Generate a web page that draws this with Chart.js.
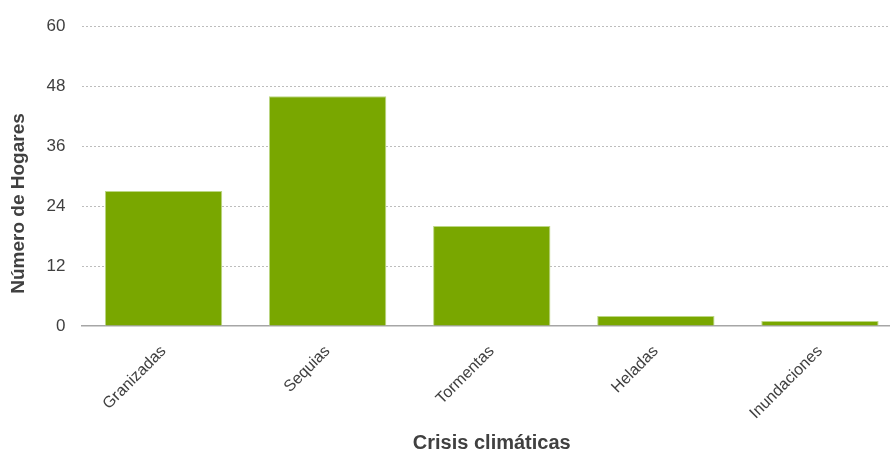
<!DOCTYPE html>
<html><head><meta charset="utf-8">
<script src="https://cdn.jsdelivr.net/npm/chart.js@4.4.1/dist/chart.umd.min.js"></script>
<style>html,body{margin:0;padding:0;overflow:hidden;background:#fff;width:890px;height:452px}#wrap{width:902px;height:452px;position:relative}</style>
</head><body><div id="wrap"><canvas id="c" width="902" height="452"></canvas></div>
<script>
const categories = ["Granizadas", "Sequias", "Tormentas", "Heladas", "Inundaciones"];
const hogares = [27, 46, 20, 2, 1];
const yTicks = [0, 12, 24, 36, 48, 60];
const yTitle = 'Número de Hogares';
const xTitle = 'Crisis climáticas';

Chart.defaults.font.family = "'Liberation Sans', Arial, sans-serif";

const yTitlePlugin = {
  id: 'yTitlePlugin',
  afterDraw(chart) {
    const ctx = chart.ctx;
    ctx.save();
    ctx.translate(19, 203.5);
    ctx.rotate(-Math.PI / 2);
    ctx.font = "bold 19px 'Liberation Sans', Arial, sans-serif";
    ctx.fillStyle = '#404040';
    ctx.textAlign = 'center';
    ctx.textBaseline = 'middle';
    ctx.fillText(yTitle, 0, 0);
    ctx.restore();
  }
};

new Chart(document.getElementById('c'), {
  type: 'bar',
  data: { labels: categories, datasets: [{ data: hogares, backgroundColor: '#79a700', borderColor: '#bcd784', borderWidth: 1, barPercentage: 0.715, categoryPercentage: 1 }] },
  options: {
    responsive: false, animation: false,
    layout: { padding: { top: 24, left: 0, right: 0, bottom: 0 } },
    plugins: { legend: { display: false }, tooltip: { enabled: false } },
    scales: {
      x: {
        grid: { display: false },
        border: { display: true, color: '#a6a6a6', width: 1.5 },
        ticks: { color: '#404040', font: { size: 16 }, maxRotation: 45, minRotation: 45, padding: 8 },
        title: { display: true, text: xTitle, color: '#404040', font: { size: 20, weight: 'bold' }, padding: { top: 0, bottom: -3 } },
        afterFit: s => { s.height = 126; }
      },
      y: {
        min: 0, max: 60,
        afterBuildTicks: s => { s.ticks = yTicks.map(v => ({ value: v })); },
        grid: { color: ctx => ctx.tick && ctx.tick.value === 0 ? 'rgba(0,0,0,0)' : '#bdbdbd', drawTicks: false, lineWidth: 1 },
        border: { display: false, dash: [2, 2] },
        ticks: { color: '#404040', font: { size: 17 }, padding: 16 },
        title: { display: false },
        afterFit: s => { s.width = 81.5; }
      }
    }
  },
  plugins: [yTitlePlugin]
});
</script></body></html>
